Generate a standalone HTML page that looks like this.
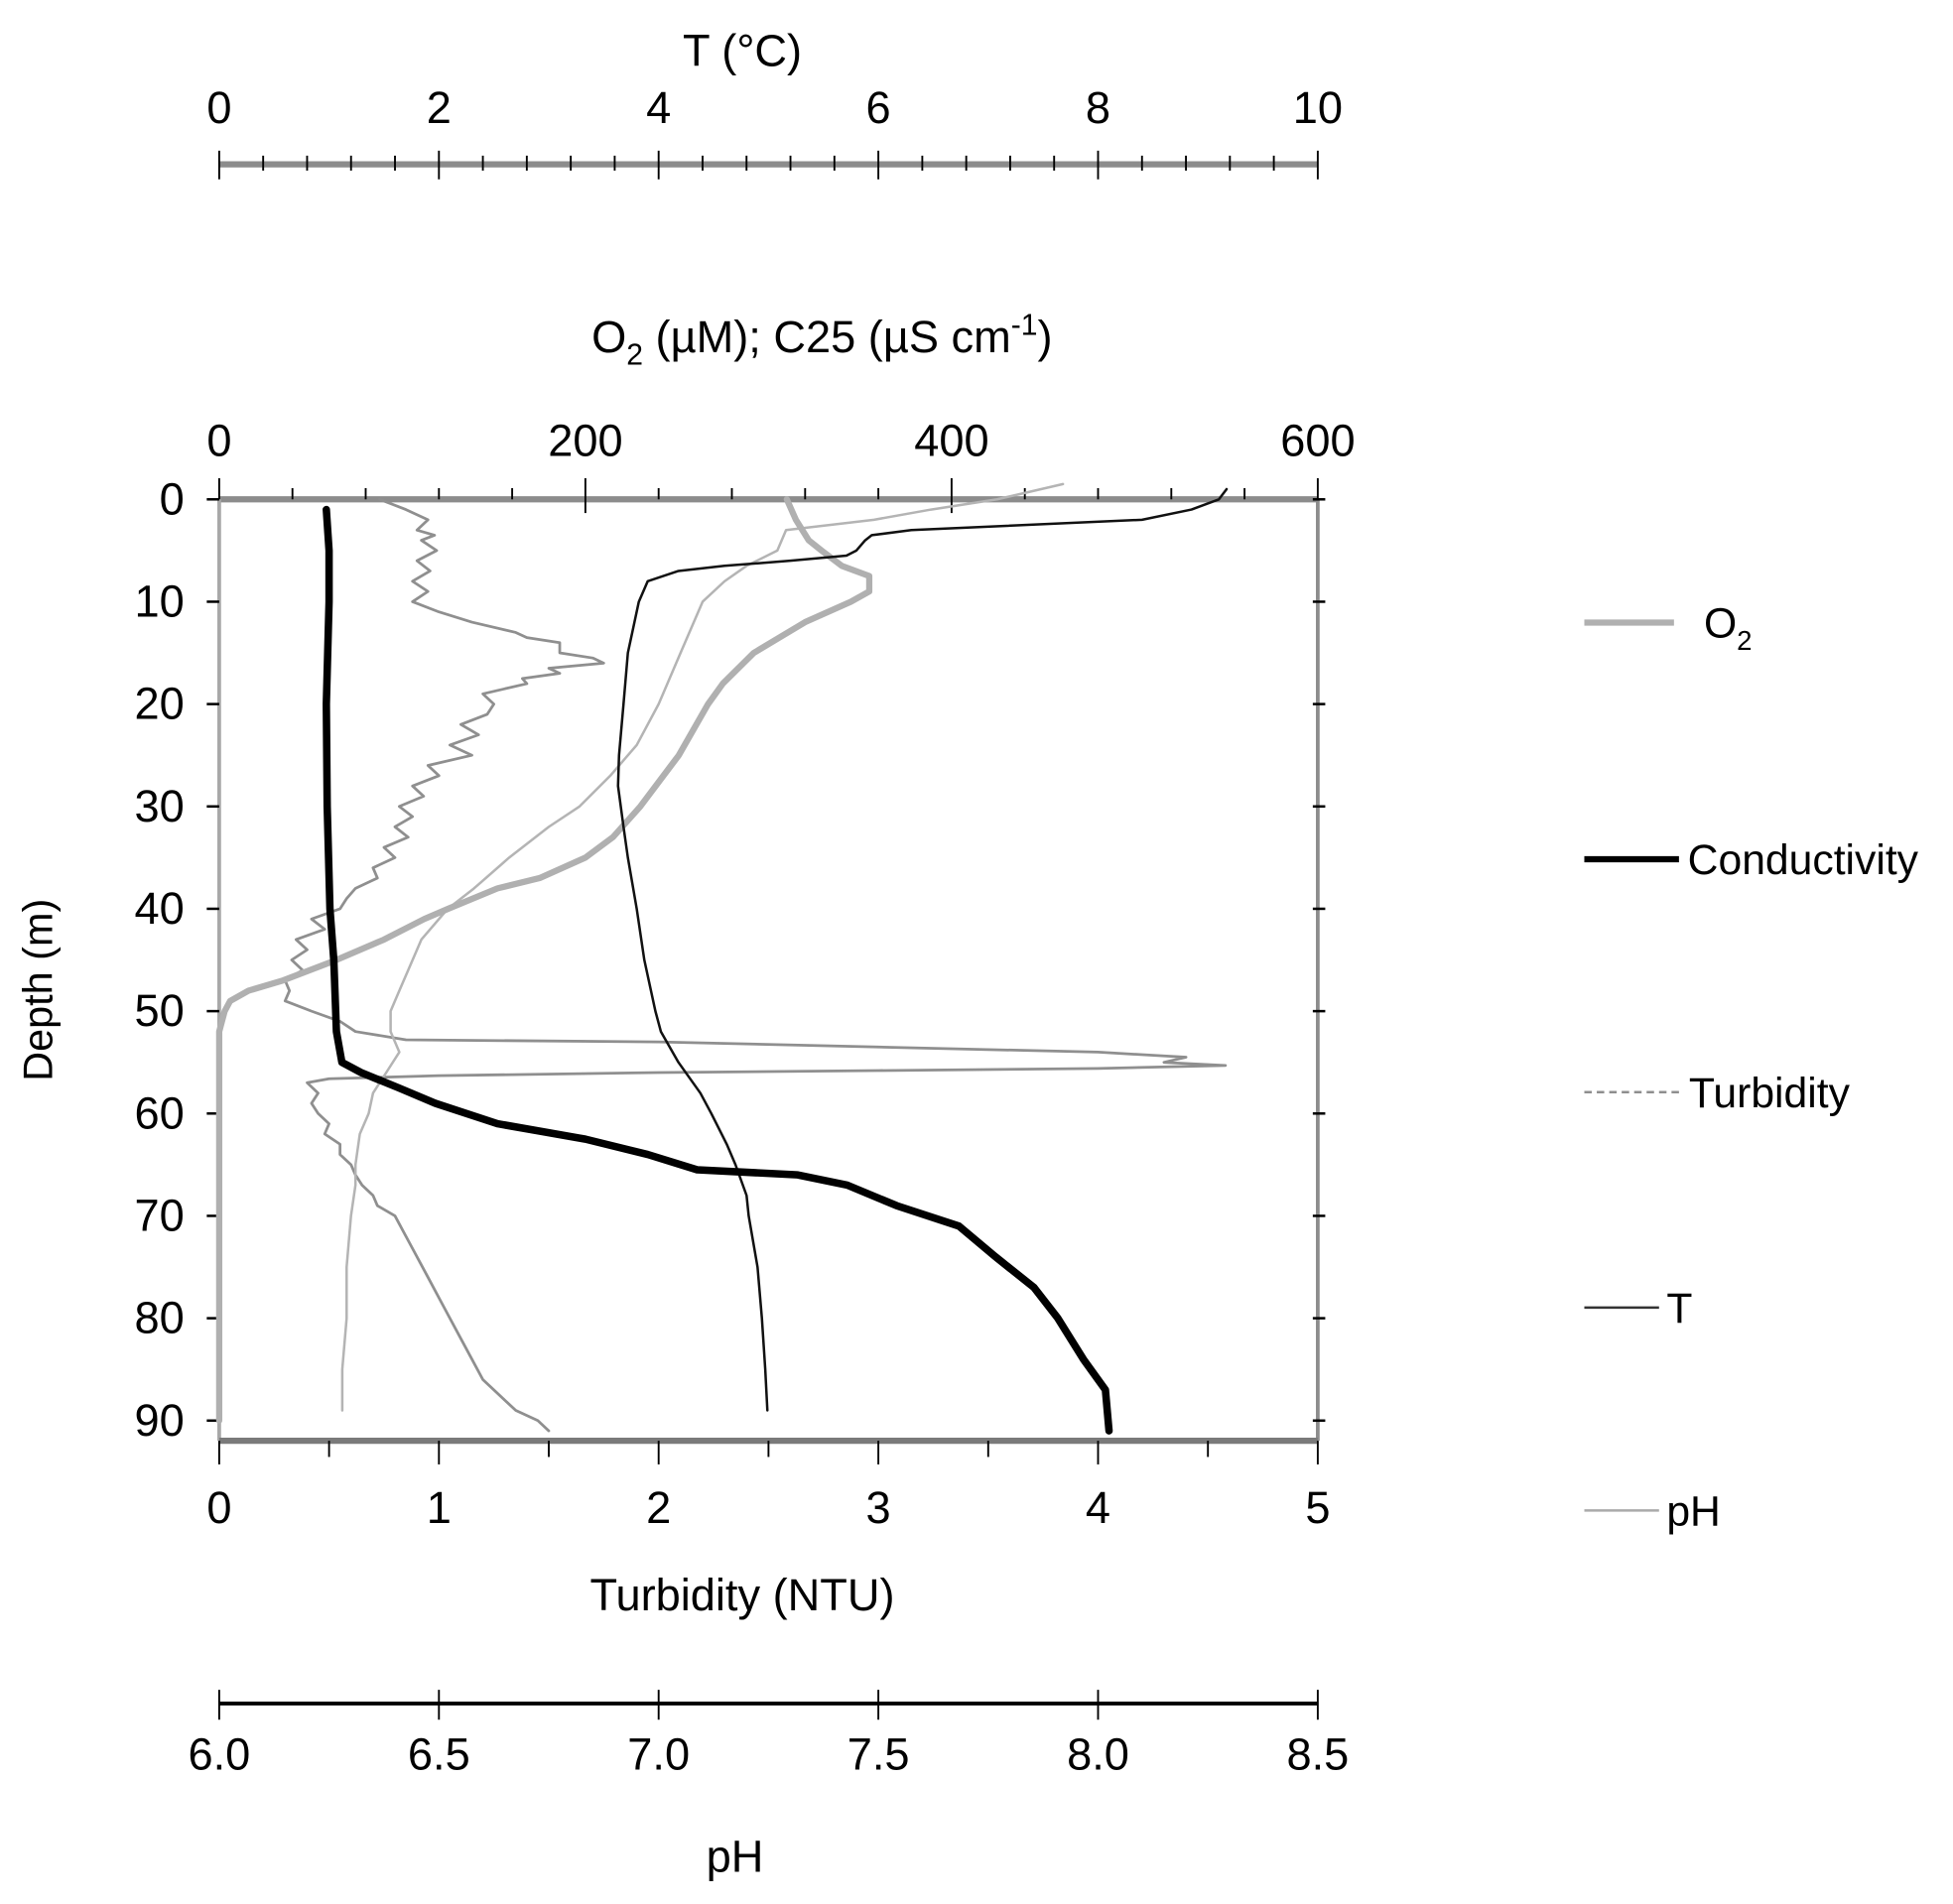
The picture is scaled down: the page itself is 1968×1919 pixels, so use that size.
<!DOCTYPE html>
<html><head><meta charset="utf-8"><style>
html,body{margin:0;padding:0;background:#fff}
svg{display:block}
text{font-family:"Liberation Sans Narrow","Liberation Sans",sans-serif;fill:#000}
</style></head><body>
<svg id="chart" width="1968" height="1919" viewBox="0 0 1568 1529" preserveAspectRatio="none" xmlns="http://www.w3.org/2000/svg">
<g id="axes"></g>
<g id="series"></g>
<g id="labels"></g>
</svg>
<script>
// ---- data ----
const depthTicks=[0,10,20,30,40,50,60,70,80,90];
const tTicks=[0,2,4,6,8,10];
const o2Ticks=[0,200,400,600];
const turbTicks=[0,1,2,3,4,5];
const phTicks=["6.0","6.5","7.0","7.5","8.0","8.5"];

const o2Depth=[0,2,4,5,6.5,7.5,9,10,12,15,18,20,25,30,33,35,37,38,40,41,43,45,47,48,49,50,52,60,70,80,90];
const o2Val=[310,315,322,329,340,355,355,345,320,292,275,267,251,230,215,200,175,152,125,112,90,64,35,16,6,3,0,0,0,0,0];

const condDepth=[1,5,10,20,30,40,45,52,55,56,57.5,59,61,62.5,64,65.5,66,67,69,71,74,77,80,84,87,91];
const condVal=[58.5,60,60,58.5,59,60.5,62.6,64,67,77.5,98,118,152,200,234,261,316,343,370,404,424,445,458,472,484,486];

const tDepth=[-1,0,1,2,3,3.5,4,5,5.5,6,6.5,7,8,10,12,15,20,25,28,32,35,40,45,50,52,55,58,60,63,65,68,70,75,80,85,89];
const tVal=[9.17,9.1,8.85,8.4,6.3,5.94,5.88,5.8,5.71,5.2,4.6,4.18,3.9,3.82,3.78,3.72,3.68,3.64,3.63,3.68,3.72,3.8,3.87,3.97,4.02,4.18,4.38,4.48,4.62,4.7,4.8,4.82,4.9,4.94,4.97,4.99];

const phDepth=[-1.5,0,1,2,3,5,6.5,8,10,15,20,24,27,30,32,35,38,40,43,46,48,50,52,54,56,58,60,62,65,67,70,75,80,85,89];
const phVal=[7.92,7.77,7.62,7.49,7.29,7.27,7.2,7.15,7.1,7.05,7.0,6.95,6.89,6.82,6.75,6.66,6.58,6.52,6.46,6.43,6.41,6.39,6.39,6.41,6.38,6.35,6.34,6.32,6.31,6.31,6.3,6.29,6.29,6.28,6.28];

const turbDepth=[0,1,2,3,3.5,4,5,6,7,8,9,10,11,12,13,13.5,14,15,15.5,16,16.5,17,17.5,18,19,20,21,22,23,24,25,26,27,28,29,30,31,32,33,34,35,36,37,38,39,40,41,42,43,44,45,46,47,48,49,50,51,52,52.8,53,53.5,54,54.5,55,55.3,55.6,55.8,56,56.3,56.6,57,58,59,60,61,62,63,64,65,66,67,68,69,70,72,74,76,78,80,82,84,86,88,89,90,91];
const turbVal=[0.73,0.85,0.95,0.9,0.98,0.92,0.99,0.9,0.96,0.88,0.95,0.88,1.0,1.15,1.35,1.4,1.55,1.55,1.7,1.75,1.5,1.55,1.38,1.4,1.2,1.25,1.22,1.1,1.18,1.05,1.15,0.95,1.0,0.88,0.93,0.82,0.88,0.8,0.86,0.75,0.8,0.7,0.72,0.62,0.58,0.55,0.42,0.48,0.35,0.4,0.33,0.38,0.3,0.32,0.3,0.42,0.55,0.62,0.85,2.0,3.0,4.0,4.4,4.3,4.58,4.0,3.0,2.0,1.0,0.5,0.4,0.45,0.42,0.45,0.5,0.48,0.55,0.55,0.6,0.62,0.65,0.7,0.72,0.8,0.85,0.9,0.95,1.0,1.05,1.1,1.15,1.2,1.3,1.35,1.45,1.5];

// ---- layout / scales ----
const L=176,R=1058,T0=401,PX10=82.2;
const yD=d=>T0+d*PX10/10;
const xT=v=>L+(R-L)*v/10;
const xO=v=>L+(R-L)*v/600;
const xTu=v=>L+(R-L)*v/5;
const xPh=v=>L+(R-L)*(v-6)/2.5;
const NS="http://www.w3.org/2000/svg";
function mk(tag,attrs,parent,txt){const e=document.createElementNS(NS,tag);for(const k in attrs)e.setAttribute(k,attrs[k]);if(txt!==undefined)e.textContent=txt;document.getElementById(parent).appendChild(e);return e;}
function line(x1,y1,x2,y2,c,w,name){const e=mk('line',{x1,y1,x2,y2,stroke:c,'stroke-width':w},'axes');

return e;}
function label(x,y,s,size,anchor,name,g){const e=mk('text',{x,y,'font-size':size,'text-anchor':anchor||'middle'},g||'labels',s);

return e;}

// T axis (top)
line(L,132,R,132,'#8c8c8c',5,'t-axis-line');
for(let i=0;i<=25;i++){const v=i*0.4;const maj=i%5===0;line(xT(v),maj?121:125,xT(v),maj?144:137,'#000',1.5,'t-axis-tick');}
tTicks.forEach(v=>label(xT(v),99,String(v),36,'middle','t-tick-label'));
label(596,53,'T (°C)',36,'middle','t-axis-title');

// O2 axis (plot top)
line(L,T0,R,T0,'#8c8c8c',5,'o2-axis-line');
for(let i=0;i<=15;i++){const v=i*40;const maj=i%5===0;line(xO(v),maj?384:392,xO(v),maj?412:T0,'#000',1.5,'o2-axis-tick');}
o2Ticks.forEach(v=>label(xO(v),366,String(v),36,'middle','o2-tick-label'));
const tt=label(660,283,'',36,'middle','o2-c25-axis-title');
tt.innerHTML='O<tspan font-size="24" dy="10">2</tspan><tspan dy="-10"> (µM); C25 (µS cm</tspan><tspan font-size="24" dy="-14">-1</tspan><tspan dy="14">)</tspan>';

// left/right frame
line(L,T0,L,1157,'#a8a8a8',3,'plot-left-border');
line(R,T0,R,1157,'#8c8c8c',3,'plot-right-border');
depthTicks.forEach(d=>{line(L-10,yD(d),L,yD(d),'#000',2,'depth-tick');line(R-4,yD(d),R+6,yD(d),'#000',2,'depth-tick-right');label(148,yD(d)+12,String(d),36,'end','depth-tick-label');});
const dt=label(0,0,'Depth (m)',33,'middle','depth-axis-title');dt.setAttribute('transform','translate(42,795) rotate(-90)');

// turbidity axis (bottom)
line(L,1157,R,1157,'#7a7a7a',5,'turbidity-axis-line');
for(let i=0;i<=10;i++){const v=i*0.5;const maj=i%2===0;line(xTu(v),1157,xTu(v),maj?1176:1170,'#000',1.5,'turbidity-tick');}
turbTicks.forEach(v=>label(xTu(v),1223,String(v),36,'middle','turbidity-tick-label'));
label(596,1293,'Turbidity  (NTU)',36,'middle','turbidity-axis-title');

// pH axis
line(L,1368,R,1368,'#000',3,'ph-axis-line');
phTicks.forEach(v=>{line(xPh(+v),1357,xPh(+v),1381,'#000',1.5,'ph-tick');label(xPh(+v),1421,v,36,'middle','ph-tick-label');});
label(590,1503,'pH',36,'middle','ph-axis-title');

// series
function path(ds,vs,xf,stroke,w,name,dash){let d='';ds.forEach((dp,i)=>{d+=(i?'L':'M')+xf(vs[i]).toFixed(1)+','+yD(dp).toFixed(1);});
const p=mk('path',{d,fill:'none',stroke,'stroke-width':w,'stroke-linejoin':'round','stroke-linecap':'round'},'series');if(dash)p.setAttribute('stroke-dasharray',dash);

return p;}
path(turbDepth,turbVal,xTu,'#8f8f8f',2.2,'turbidity-line');
path(phDepth,phVal,xPh,'#b4b4b4',2,'ph-line');
path(o2Depth,o2Val,xO,'#b0b0b0',5,'o2-line');
path(tDepth,tVal,xT,'#111',2,'t-line');
path(condDepth,condVal,xO,'#000',6,'conductivity-line');

// legend
function leg(y,x2,c,w,dash,txt,tx,name){const l=line(1272,y,x2,y,c,w,name+'-swatch');if(dash)l.setAttribute('stroke-dasharray',dash);return label(tx,y+12,txt,34,'start',name+'-label');}
const lo=leg(500,1344,'#b0b0b0',5,null,'',1368,'legend-o2');lo.innerHTML='O<tspan font-size="22" dy="10">2</tspan>';
leg(690,1348,'#000',5,null,'Conductivity',1355,'legend-conductivity');
leg(877,1350,'#8f8f8f',2,'6,4','Turbidity',1356,'legend-turbidity');
leg(1050,1332,'#333',2,null,'T',1338,'legend-t');
leg(1213,1332,'#aaa',2,null,'pH',1338,'legend-ph');
</script>
</body></html>
